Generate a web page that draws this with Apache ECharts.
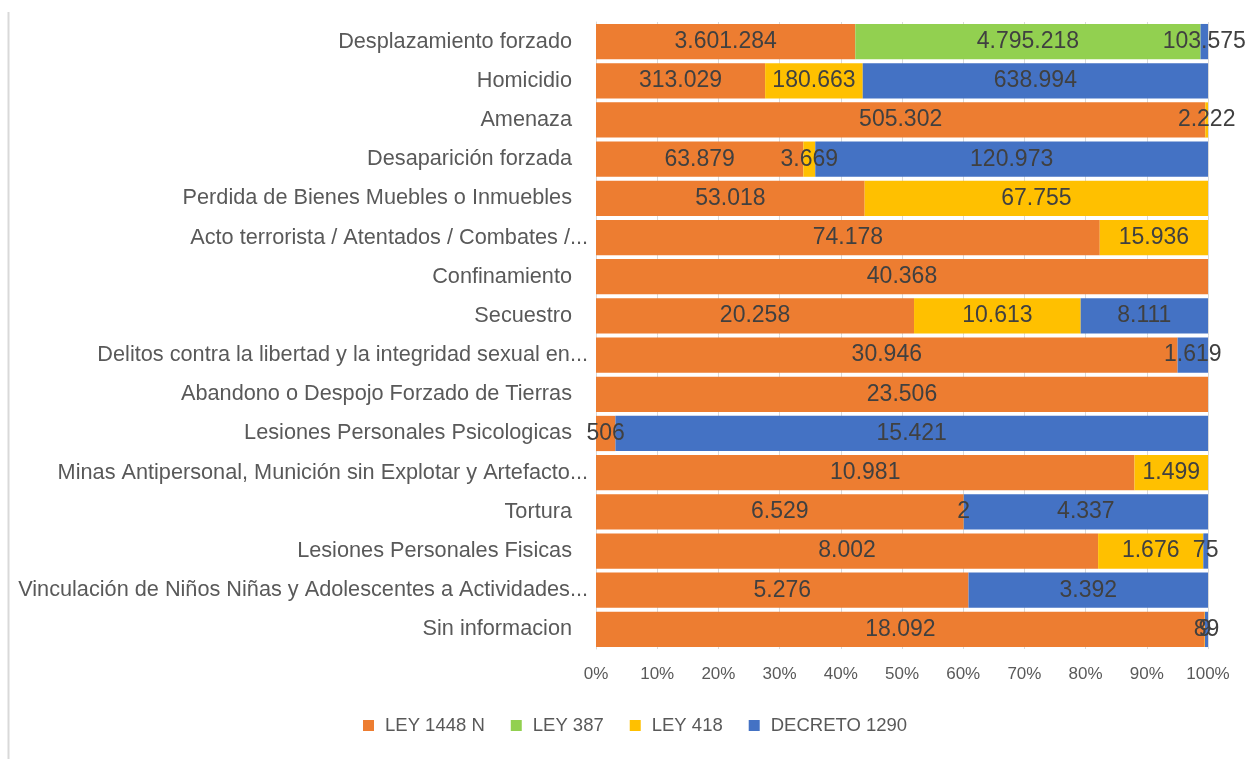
<!DOCTYPE html>
<html>
<head>
<meta charset="utf-8">
<script src="https://cdn.jsdelivr.net/npm/echarts@6/dist/echarts.min.js"></script>
<style>
  html, body { margin: 0; padding: 0; background: #fff; }
  #chart { width: 1250px; height: 759px; }
</style>
</head>
<body>
<div id="chart"></div>
<script>
const categories = [
  'Desplazamiento forzado',
  'Homicidio',
  'Amenaza',
  'Desaparición forzada',
  'Perdida de Bienes Muebles o Inmuebles',
  'Acto terrorista / Atentados / Combates /...',
  'Confinamiento',
  'Secuestro',
  'Delitos contra la libertad y la integridad sexual en...',
  'Abandono o Despojo Forzado de Tierras',
  'Lesiones Personales Psicologicas',
  'Minas Antipersonal, Munición sin Explotar y Artefacto...',
  'Tortura',
  'Lesiones Personales Fisicas',
  'Vinculación de Niños Niñas y Adolescentes a Actividades...',
  'Sin informacion'
]
const ley1448 = [3601284, 313029, 505302, 63879, 53018, 74178, 40368, 20258, 30946, 23506, 506, 10981, 6529, 8002, 5276, 18092]
const ley387 = [4795218, null, null, null, null, null, null, null, null, null, null, null, null, null, null, null]
const ley418 = [null, 180663, 2222, 3669, 67755, 15936, null, 10613, null, null, null, 1499, 2, 1676, null, 9]
const decreto1290 = [103575, 638994, null, 120973, null, null, null, 8111, 1619, null, 15421, null, 4337, 75, 3392, 89]
const xTicks = [0, 10, 20, 30, 40, 50, 60, 70, 80, 90, 100]

const seriesNames = ['LEY 1448 N', 'LEY 387', 'LEY 418', 'DECRETO 1290']
const seriesColors = ['#ED7D31', '#92D050', '#FFC000', '#4472C4']
const raw = [ley1448, ley387, ley418, decreto1290]

const totals = categories.map((c, i) => raw.reduce((s, arr) => s + (arr[i] || 0), 0))

// numero con separador de miles '.'
function fmt (v) {
  return String(v).replace(/\B(?=(\d{3})+(?!\d))/g, '.')
}

const series = raw.map((arr, k) => ({
  name: seriesNames[k],
  type: 'bar',
  stack: 'total',
  barCategoryGap: '10%',
  itemStyle: { color: seriesColors[k] },
  label: {
    show: true,
    position: 'inside',
    color: '#404040',
    fontSize: 23,
    fontFamily: 'Liberation Sans',
    formatter: p => (arr[p.dataIndex] == null ? '' : fmt(arr[p.dataIndex]))
  },
  data: arr.map((v, i) => (v == null ? null : v / totals[i] * 100))
}))

const myChart = echarts.init(document.getElementById('chart'))
const option = {
  animation: false,
  backgroundColor: '#fff',
  textStyle: { fontFamily: 'Liberation Sans' },
  graphic: [
    {
      type: 'line',
      shape: { x1: 8.5, y1: 12, x2: 8.5, y2: 759 },
      style: { stroke: '#d9d9d9', lineWidth: 2 }
    }
  ],
  grid: {
    left: 596,
    right: 42,
    top: 22,
    bottom: 110
  },
  legend: {
    bottom: 19,
    left: 358,
    icon: 'rect',
    itemWidth: 11,
    itemHeight: 11,
    itemGap: 26,
    textStyle: { fontSize: 18.5, color: '#595959', fontFamily: 'Liberation Sans', padding: [0, 0, 0, 6] },
    data: seriesNames
  },
  xAxis: {
    type: 'value',
    min: 0,
    max: 100,
    interval: 10,
    axisLine: { show: false },
    axisTick: { show: false },
    splitLine: { lineStyle: { color: '#d9d9d9' } },
    axisLabel: {
      color: '#595959',
      fontSize: 17,
      margin: 17,
      formatter: v => (xTicks.includes(v) ? v + '%' : '')
    }
  },
  yAxis: {
    type: 'category',
    inverse: true,
    data: categories,
    axisLine: { show: true, lineStyle: { color: '#d9d9d9' } },
    axisTick: { show: false },
    axisLabel: {
      margin: 8,
      color: '#595959',
      fontSize: 21.7,
      formatter: v => (v.endsWith('...') ? '{e|' + v + '}' : '{n|' + v + '}'),
      rich: {
        e: { fontSize: 21.7, color: '#595959' },
        n: { fontSize: 21.7, color: '#595959', padding: [0, 16, 0, 0] }
      }
    }
  },
  series: series
}
option && myChart.setOption(option)
window.addEventListener('resize', function () {
  myChart.resize()
})
</script>
</body>
</html>
